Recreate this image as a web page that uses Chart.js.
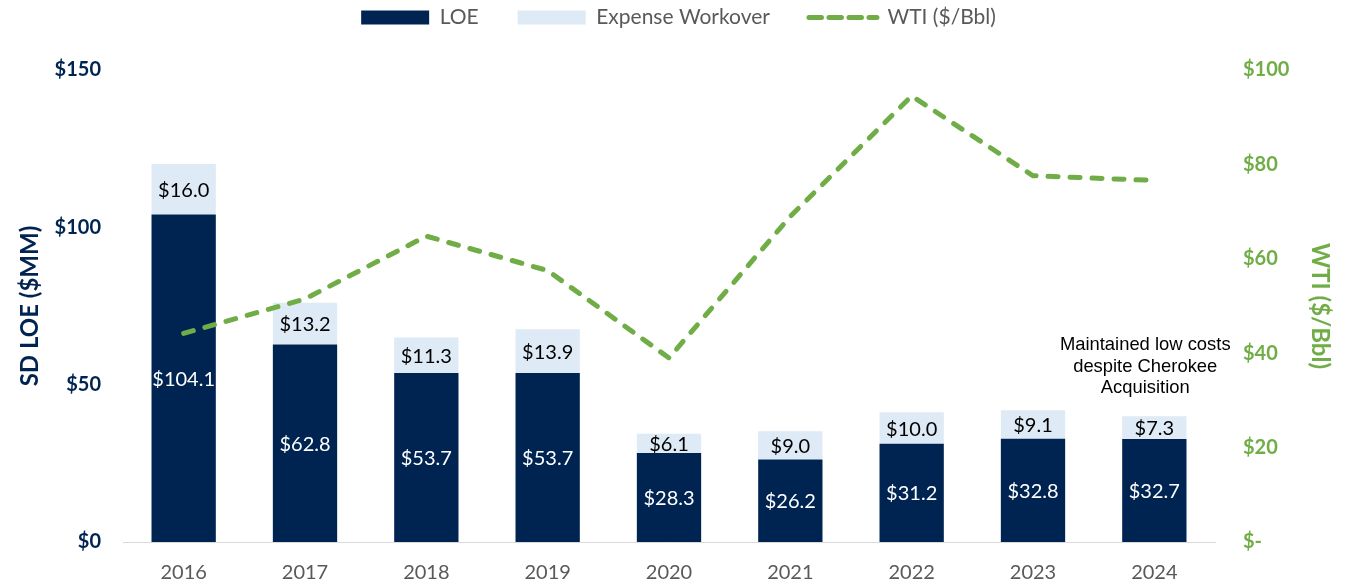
<!DOCTYPE html>
<html>
<head>
<meta charset="utf-8">
<script src="https://cdn.jsdelivr.net/npm/chart.js@4.4.1/dist/chart.umd.min.js"></script>
<style>
html,body{margin:0;padding:0;background:#fff;}
#wrap{width:1345px;height:586px;position:relative;}
</style>
</head>
<body>
<div id="wrap"><canvas id="c" width="1345" height="586"></canvas></div>
<script>
const years = ['2016','2017','2018','2019','2020','2021','2022','2023','2024'];
const loe = [104.1, 62.8, 53.7, 53.7, 28.3, 26.2, 31.2, 32.8, 32.7];
const workover = [16.0, 13.2, 11.3, 13.9, 6.1, 9.0, 10.0, 9.1, 7.3];
const wti = [44.2, 51.5, 64.8, 57.5, 39.0, 69.0, 94.5, 77.6, 76.6];
const leftTicks = [0, 50, 100, 150];
const rightTicks = [0, 20, 40, 60, 80, 100];
const noteLines = ['Maintained low costs', 'despite Cherokee', 'Acquisition'];

const NAVY = '#002451';
const LIGHT = '#DEEAF6';
const GREEN = '#70AD47';
const GRAY = '#595959';

const labelPlugin = {
  id: 'barLabels',
  afterDatasetsDraw(chart) {
    const ctx = chart.ctx;
    ctx.save();
    ctx.font = '20px Lato';
    ctx.textAlign = 'center';
    ctx.textBaseline = 'middle';
    [0, 1].forEach(di => {
      const meta = chart.getDatasetMeta(di);
      const data = chart.data.datasets[di].data;
      ctx.fillStyle = di === 0 ? '#FFFFFF' : '#000000';
      meta.data.forEach((el, i) => {
        const p = el.getProps(['x', 'y', 'base'], true);
        ctx.fillText('$' + data[i].toFixed(1), p.x, (p.y + p.base) / 2 + 1);
      });
    });
    ctx.restore();
  },
  afterDraw(chart) {
    const ctx = chart.ctx;
    const xs = chart.scales.x, ys = chart.scales.y;
    const step = xs.getPixelForValue(1) - xs.getPixelForValue(0);
    const cx = xs.getPixelForValue(8) - 0.075 * step;
    const y0 = ys.getPixelForValue(62.6);
    ctx.save();
    ctx.font = '18.4px "Liberation Sans"';
    ctx.fillStyle = '#000';
    ctx.textAlign = 'center';
    ctx.textBaseline = 'middle';
    noteLines.forEach((t, i) => ctx.fillText(t, cx, y0 + i * 21.5));
    ctx.restore();
  }
};

const legendTweak = {
  id: 'legendTweak',
  beforeInit(chart) {
    const fit = chart.legend.fit;
    chart.legend.fit = function () { fit.call(this); this.height = 102; };
  },
  afterLayout(chart) {
    chart.legend.left += 6;
    chart.legend.right += 6;
  }
};

new Chart(document.getElementById('c'), {
  data: {
    labels: years,
    datasets: [
      { type: 'bar', label: 'LOE', data: loe, backgroundColor: NAVY, yAxisID: 'y', stack: 's', order: 1,
        barPercentage: 0.53, categoryPercentage: 1 },
      { type: 'bar', label: 'Expense Workover', data: workover, backgroundColor: LIGHT, yAxisID: 'y', stack: 's', order: 1,
        barPercentage: 0.53, categoryPercentage: 1 },
      { type: 'line', label: 'WTI ($/Bbl)', data: wti, borderColor: GREEN, backgroundColor: GREEN, yAxisID: 'y1', order: 0,
        borderWidth: 5, borderDash: [10, 12], borderCapStyle: 'round', pointRadius: 0, tension: 0, fill: false }
    ]
  },
  options: {
    responsive: false,
    animation: false,
    devicePixelRatio: 1,
    layout: { padding: { left: 0, right: 0, top: -32, bottom: 0 } },
    plugins: {
      tooltip: { enabled: false },
      legend: {
        position: 'top',
        labels: {
          color: GRAY,
          font: { family: 'Lato', size: 21 },
          usePointStyle: true,
          pointStyleWidth: 68,
          boxHeight: 14,
          padding: 39,
          generateLabels(chart) {
            return chart.data.datasets.map((ds, i) => ({
              text: ds.label,
              fillStyle: ds.type === 'line' ? GREEN : ds.backgroundColor,
              strokeStyle: ds.type === 'line' ? GREEN : ds.backgroundColor,
              lineWidth: ds.type === 'line' ? 5 : 0,
              lineDash: ds.type === 'line' ? [12.5, 7.5] : [],
              lineCap: 'round',
              pointStyle: ds.type === 'line' ? 'line' : 'rect',
              fontColor: GRAY,
              datasetIndex: i,
              hidden: false
            }));
          }
        }
      }
    },
    scales: {
      x: {
        stacked: true,
        afterFit(s) { s.height = 44; },
        grid: { display: false, drawTicks: false },
        border: { display: true, color: '#D9D9D9', width: 1 },
        ticks: { color: GRAY, font: { family: 'Lato', size: 20 }, padding: 19 }
      },
      y: {
        position: 'left',
        stacked: true,
        min: 0, max: 150,
        afterBuildTicks(s) { s.ticks = leftTicks.map(v => ({ value: v })); },
        afterFit(s) { s.width = 123; },
        grid: { display: false, drawTicks: false },
        border: { display: false },
        ticks: { color: NAVY, font: { family: 'Lato', size: 20, weight: 'bold' }, padding: 22,
          callback: v => '$' + v },
        title: { display: true, text: 'SD LOE ($MM)', color: NAVY, font: { family: 'Lato', size: 24, weight: 'bold' }, padding: { top: 15.6, bottom: 0 } }
      },
      y1: {
        position: 'right',
        min: 0, max: 100,
        afterBuildTicks(s) { s.ticks = rightTicks.map(v => ({ value: v })); },
        afterFit(s) { s.width = 130; },
        grid: { display: false, drawTicks: false },
        border: { display: false },
        ticks: { color: GREEN, font: { family: 'Lato', size: 20, weight: 'bold' }, padding: 28,
          callback: v => v === 0 ? '$-' : '$' + v },
        title: { display: true, text: 'WTI ($/Bbl)', color: GREEN, font: { family: 'Lato', size: 24, weight: 'bold' }, padding: { top: 10.6, bottom: 0 } }
      }
    }
  },
  plugins: [labelPlugin, legendTweak]
});
</script>
</body>
</html>
